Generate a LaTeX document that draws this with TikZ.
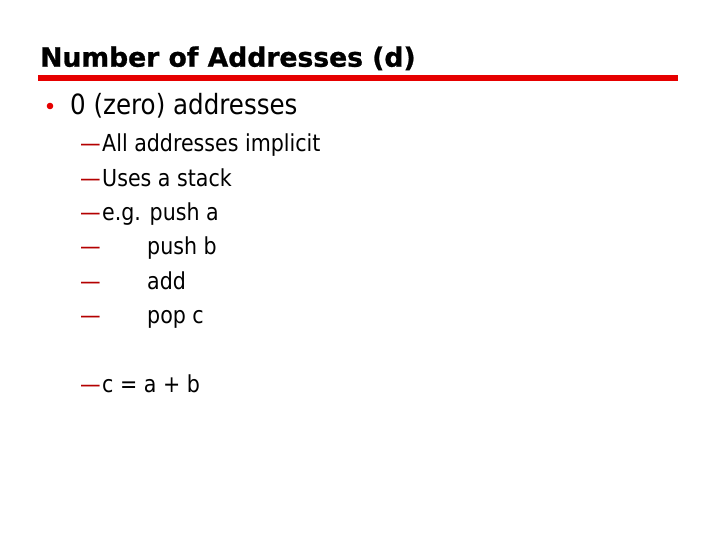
\documentclass[tikz,border=0pt]{standalone}
\usepackage{fontspec}
\setmainfont{DejaVu Sans}
\newfontfamily\titlefont{DejaVu Sans}[BoldFeatures={FakeBold=1}]
\newfontfamily\bodyfont{DejaVu Sans}[FakeStretch=0.88]
\definecolor{slidered}{RGB}{230,0,0}
\definecolor{dashred}{RGB}{180,0,0}
\begin{document}
\begin{tikzpicture}[x=1pt,y=-1pt,
  titletext/.style={anchor=base west,inner sep=0pt,font=\titlefont\bfseries\fontsize{26.6}{30}\selectfont},
  lvlone/.style={anchor=base west,inner sep=0pt,font=\bodyfont\fontsize{27.9}{32}\selectfont},
  lvltwo/.style={anchor=base west,inner sep=0pt,font=\bodyfont\fontsize{23.4}{28}\selectfont},
  dashmark/.style={anchor=base west,inner sep=0pt,text=dashred,font=\bodyfont\fontsize{23.4}{28}\selectfont}]
\useasboundingbox (0,0) rectangle (720,540);
\fill[white] (0,0) rectangle (720,540);
\node[titletext] (title) at (40,66.7) {Number of Addresses (d)};
\fill[slidered] (38,75) rectangle (678,81.3);
\fill[slidered] (50,106) circle (3.3);
\node[lvlone] (b1) at (70,114.3) {0 (zero) addresses};
\node[dashmark] (d1) at (80,152) {—};
\node[lvltwo] (t1) at (102,152) {All addresses implicit};
\node[dashmark] (d2) at (80,186.5) {—};
\node[lvltwo] (t2) at (102,186.5) {Uses a stack};
\node[dashmark] (d3) at (80,220.5) {—};
\node[lvltwo] (t3) at (102,220.5) {e.g. push a};
\node[dashmark] (d4) at (80,254.5) {—};
\node[lvltwo] (t4) at (147,254.5) {push b};
\node[dashmark] (d5) at (80,289) {—};
\node[lvltwo] (t5) at (147,289) {add};
\node[dashmark] (d6) at (80,323.5) {—};
\node[lvltwo] (t6) at (147,323.5) {pop c};
\node[dashmark] (d7) at (80,392) {—};
\node[lvltwo] (t7) at (102,392) {c = a + b};
\end{tikzpicture}
\end{document}
